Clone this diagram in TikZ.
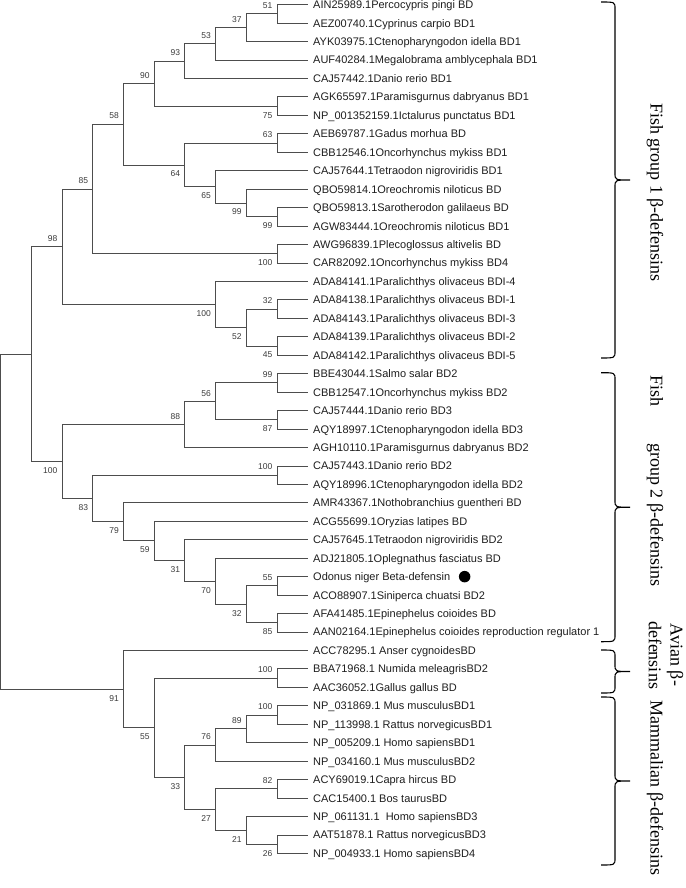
\documentclass[tikz,border=0pt]{standalone}
\usepackage{fontspec}
\setmainfont{Liberation Serif}
\newfontfamily\treefont{Liberation Sans}
\usepackage{tikz}
\usetikzlibrary{positioning}

\definecolor{branchgray}{HTML}{4D4D4D}
\definecolor{bootgray}{HTML}{3A3A3A}
\definecolor{leafblack}{HTML}{1E1E1E}

% right brace for a group, #1 = top, #2 = bottom
\newcommand{\grpbrace}[2]{%
  \draw[gbrace] (601,#1) .. controls (615,#1) .. (615,{#1+7})
    -- (615,{(#1+#2)/2-7}) .. controls (615,{(#1+#2)/2}) .. (630,{(#1+#2)/2})
    .. controls (615,{(#1+#2)/2}) .. (615,{(#1+#2)/2+7})
    -- (615,{#2-7}) .. controls (615,#2) .. (601,#2);}

\begin{document}
\begin{tikzpicture}[x=1pt, y=-1pt,
    branch/.style={draw=branchgray, line width=0.9pt},
    leaf/.style={anchor=west, inner xsep=5.3pt, inner ysep=0pt, text height=7.9pt, text depth=0pt, font=\treefont\fontsize{11}{13}\selectfont, text=leafblack},
    boot/.style={anchor=east, inner sep=0pt, font=\treefont\fontsize{8.5}{10}\selectfont, text=bootgray},
    bu/.style={boot, xshift=-4.5pt, yshift=8.3pt},
    bd/.style={boot, xshift=-4.5pt, yshift=-9pt},
    dotmark/.style={circle, fill=black, minimum size=11.5pt, inner sep=0pt},
    gbrace/.style={draw=black, line width=1.1pt},
    grplabel/.style={rotate=-90, inner sep=0pt, font=\fontsize{18}{21.7}\selectfont}]
  \useasboundingbox (0,0) rectangle (685,888);

  \begin{scope}[xshift=0.7pt, yshift=-4.7pt, x=30.7pt, y=-18.45pt]
    % Fish group 1
    \node[leaf] (l1) at (10,0) {AIN25989.1Percocypris pingi BD};
    \node[leaf] (l2) at (10,1) {AEZ00740.1Cyprinus carpio BD1};
    \node[leaf] (l3) at (10,2) {AYK03975.1Ctenopharyngodon idella BD1};
    \node[leaf] (l4) at (10,3) {AUF40284.1Megalobrama amblycephala BD1};
    \node[leaf] (l5) at (10,4) {CAJ57442.1Danio rerio BD1};
    \node[leaf] (l6) at (10,5) {AGK65597.1Paramisgurnus dabryanus BD1};
    \node[leaf] (l7) at (10,6) {NP\_001352159.1Ictalurus punctatus BD1};
    \node[leaf] (l8) at (10,7) {AEB69787.1Gadus morhua BD};
    \node[leaf] (l9) at (10,8) {CBB12546.1Oncorhynchus mykiss BD1};
    \node[leaf] (l10) at (10,9) {CAJ57644.1Tetraodon nigroviridis BD1};
    \node[leaf] (l11) at (10,10) {QBO59814.1Oreochromis niloticus BD};
    \node[leaf] (l12) at (10,11) {QBO59813.1Sarotherodon galilaeus BD};
    \node[leaf] (l13) at (10,12) {AGW83444.1Oreochromis niloticus BD1};
    \node[leaf] (l14) at (10,13) {AWG96839.1Plecoglossus altivelis BD};
    \node[leaf] (l15) at (10,14) {CAR82092.1Oncorhynchus mykiss BD4};
    \node[leaf] (l16) at (10,15) {ADA84141.1Paralichthys olivaceus BDI-4};
    \node[leaf] (l17) at (10,16) {ADA84138.1Paralichthys olivaceus BDI-1};
    \node[leaf] (l18) at (10,17) {ADA84143.1Paralichthys olivaceus BDI-3};
    \node[leaf] (l19) at (10,18) {ADA84139.1Paralichthys olivaceus BDI-2};
    \node[leaf] (l20) at (10,19) {ADA84142.1Paralichthys olivaceus BDI-5};
    % Fish group 2
    \node[leaf] (l21) at (10,20) {BBE43044.1Salmo salar BD2};
    \node[leaf] (l22) at (10,21) {CBB12547.1Oncorhynchus mykiss BD2};
    \node[leaf] (l23) at (10,22) {CAJ57444.1Danio rerio BD3};
    \node[leaf] (l24) at (10,23) {AQY18997.1Ctenopharyngodon idella BD3};
    \node[leaf] (l25) at (10,24) {AGH10110.1Paramisgurnus dabryanus BD2};
    \node[leaf] (l26) at (10,25) {CAJ57443.1Danio rerio BD2};
    \node[leaf] (l27) at (10,26) {AQY18996.1Ctenopharyngodon idella BD2};
    \node[leaf] (l28) at (10,27) {AMR43367.1Nothobranchius guentheri BD};
    \node[leaf] (l29) at (10,28) {ACG55699.1Oryzias latipes BD};
    \node[leaf] (l30) at (10,29) {CAJ57645.1Tetraodon nigroviridis BD2};
    \node[leaf] (l31) at (10,30) {ADJ21805.1Oplegnathus fasciatus BD};
    \node[leaf] (l32) at (10,31) {Odonus niger Beta-defensin};
    \node[dotmark, right=3pt of l32] (mark) {};
    \node[leaf] (l33) at (10,32) {ACO88907.1Siniperca chuatsi BD2};
    \node[leaf] (l34) at (10,33) {AFA41485.1Epinephelus coioides BD};
    \node[leaf] (l35) at (10,34) {AAN02164.1Epinephelus coioides reproduction regulator 1};
    % Avian
    \node[leaf] (l36) at (10,35) {ACC78295.1 Anser cygnoidesBD};
    \node[leaf] (l37) at (10,36) {BBA71968.1 Numida meleagrisBD2};
    \node[leaf] (l38) at (10,37) {AAC36052.1Gallus gallus BD};
    % Mammalian
    \node[leaf] (l39) at (10,38) {NP\_031869.1 Mus musculusBD1};
    \node[leaf] (l40) at (10,39) {NP\_113998.1 Rattus norvegicusBD1};
    \node[leaf] (l41) at (10,40) {NP\_005209.1 Homo sapiensBD1};
    \node[leaf] (l42) at (10,41) {NP\_034160.1 Mus musculusBD2};
    \node[leaf] (l43) at (10,42) {ACY69019.1Capra hircus BD};
    \node[leaf] (l44) at (10,43) {CAC15400.1 Bos taurusBD};
    \node[leaf] (l45) at (10,44) {NP\_061131.1~ Homo sapiensBD3};
    \node[leaf] (l46) at (10,45) {AAT51878.1 Rattus norvegicusBD3};
    \node[leaf] (l47) at (10,46) {NP\_004933.1 Homo sapiensBD4};

    % internal nodes, fish group 1
    \coordinate (n51) at (9,0.5); \node[bu] (b51) at (n51) {51};
    \coordinate (n37) at (8,1.25); \node[bu] (b37) at (n37) {37};
    \coordinate (n53) at (7,2.125); \node[bu] (b53) at (n53) {53};
    \coordinate (n93) at (6,3.0625); \node[bu] (b93) at (n93) {93};
    \coordinate (n75) at (9,5.5); \node[bd] (b75) at (n75) {75};
    \coordinate (n90) at (5,4.28125); \node[bu] (b90) at (n90) {90};
    \coordinate (n63) at (9,7.5); \node[bu] (b63) at (n63) {63};
    \coordinate (n99b) at (9,11.5); \node[bd] (b99b) at (n99b) {99};
    \coordinate (n99a) at (8,10.75); \node[bd] (b99a) at (n99a) {99};
    \coordinate (n65) at (7,9.875); \node[bd] (b65) at (n65) {65};
    \coordinate (n64) at (6,8.6875); \node[bd] (b64) at (n64) {64};
    \coordinate (n58) at (4,6.484375); \node[bu] (b58) at (n58) {58};
    \coordinate (n100a) at (9,13.5); \node[bd] (b100a) at (n100a) {100};
    \coordinate (n85) at (3,9.9921875); \node[bu] (b85) at (n85) {85};
    \coordinate (n32a) at (9,16.5); \node[bu] (b32a) at (n32a) {32};
    \coordinate (n45) at (9,18.5); \node[bd] (b45) at (n45) {45};
    \coordinate (n52) at (8,17.5); \node[bd] (b52) at (n52) {52};
    \coordinate (n100b) at (7,16.25); \node[bd] (b100b) at (n100b) {100};
    \coordinate (n98) at (2,13.12109375); \node[bu] (b98) at (n98) {98};
    \coordinate (nfish) at (1,18.939453125);

    % internal nodes, fish group 2
    \coordinate (n99c) at (9,20.5); \node[bu] (b99c) at (n99c) {99};
    \coordinate (n87) at (9,22.5); \node[bd] (b87) at (n87) {87};
    \coordinate (n56) at (7,21.5); \node[bu] (b56) at (n56) {56};
    \coordinate (n88) at (6,22.75); \node[bu] (b88) at (n88) {88};
    \coordinate (n100d) at (9,25.5); \node[bu] (b100d) at (n100d) {100};
    \coordinate (n55f) at (9,31.5); \node[bu] (b55f) at (n55f) {55};
    \coordinate (n85b) at (9,33.5); \node[bd] (b85b) at (n85b) {85};
    \coordinate (n32b) at (8,32.5); \node[bd] (b32b) at (n32b) {32};
    \coordinate (n70) at (7,31.25); \node[bd] (b70) at (n70) {70};
    \coordinate (n31) at (6,30.125); \node[bd] (b31) at (n31) {31};
    \coordinate (n59) at (5,29.0625); \node[bd] (b59) at (n59) {59};
    \coordinate (n79) at (4,28.03125); \node[bd] (b79) at (n79) {79};
    \coordinate (n83) at (3,26.765625); \node[bd] (b83) at (n83) {83};
    \coordinate (n100c) at (2,24.7578125); \node[bd] (b100c) at (n100c) {100};

    % internal nodes, birds and mammals
    \coordinate (n100e) at (9,36.5); \node[bu] (b100e) at (n100e) {100};
    \coordinate (n100f) at (9,38.5); \node[bu] (b100f) at (n100f) {100};
    \coordinate (n89) at (8,39.25); \node[bu] (b89) at (n89) {89};
    \coordinate (n76) at (7,40.125); \node[bu] (b76) at (n76) {76};
    \coordinate (n82) at (9,42.5); \node[bu] (b82) at (n82) {82};
    \coordinate (n26) at (9,45.5); \node[bd] (b26) at (n26) {26};
    \coordinate (n21) at (8,44.75); \node[bd] (b21) at (n21) {21};
    \coordinate (n27) at (7,43.625); \node[bd] (b27) at (n27) {27};
    \coordinate (n33) at (6,41.875); \node[bd] (b33) at (n33) {33};
    \coordinate (n55) at (5,39.1875); \node[bd] (b55) at (n55) {55};
    \coordinate (n91) at (4,37.09375); \node[bd] (b91) at (n91) {91};
    \coordinate (root) at (0,28.0166);

    % branches
    \draw[branch] (n51) |- (l1) (n51) |- (l2);
    \draw[branch] (n37) |- (n51) (n37) |- (l3);
    \draw[branch] (n53) |- (n37) (n53) |- (l4);
    \draw[branch] (n93) |- (n53) (n93) |- (l5);
    \draw[branch] (n75) |- (l6) (n75) |- (l7);
    \draw[branch] (n90) |- (n93) (n90) |- (n75);
    \draw[branch] (n63) |- (l8) (n63) |- (l9);
    \draw[branch] (n99b) |- (l12) (n99b) |- (l13);
    \draw[branch] (n99a) |- (l11) (n99a) |- (n99b);
    \draw[branch] (n65) |- (l10) (n65) |- (n99a);
    \draw[branch] (n64) |- (n63) (n64) |- (n65);
    \draw[branch] (n58) |- (n90) (n58) |- (n64);
    \draw[branch] (n100a) |- (l14) (n100a) |- (l15);
    \draw[branch] (n85) |- (n58) (n85) |- (n100a);
    \draw[branch] (n32a) |- (l17) (n32a) |- (l18);
    \draw[branch] (n45) |- (l19) (n45) |- (l20);
    \draw[branch] (n52) |- (n32a) (n52) |- (n45);
    \draw[branch] (n100b) |- (l16) (n100b) |- (n52);
    \draw[branch] (n98) |- (n85) (n98) |- (n100b);
    \draw[branch] (nfish) |- (n98) (nfish) |- (n100c);

    \draw[branch] (n99c) |- (l21) (n99c) |- (l22);
    \draw[branch] (n87) |- (l23) (n87) |- (l24);
    \draw[branch] (n56) |- (n99c) (n56) |- (n87);
    \draw[branch] (n88) |- (n56) (n88) |- (l25);
    \draw[branch] (n100d) |- (l26) (n100d) |- (l27);
    \draw[branch] (n55f) |- (l32) (n55f) |- (l33);
    \draw[branch] (n85b) |- (l34) (n85b) |- (l35);
    \draw[branch] (n32b) |- (n55f) (n32b) |- (n85b);
    \draw[branch] (n70) |- (l31) (n70) |- (n32b);
    \draw[branch] (n31) |- (l30) (n31) |- (n70);
    \draw[branch] (n59) |- (l29) (n59) |- (n31);
    \draw[branch] (n79) |- (l28) (n79) |- (n59);
    \draw[branch] (n83) |- (n100d) (n83) |- (n79);
    \draw[branch] (n100c) |- (n88) (n100c) |- (n83);

    \draw[branch] (n100e) |- (l37) (n100e) |- (l38);
    \draw[branch] (n100f) |- (l39) (n100f) |- (l40);
    \draw[branch] (n89) |- (n100f) (n89) |- (l41);
    \draw[branch] (n76) |- (n89) (n76) |- (l42);
    \draw[branch] (n82) |- (l43) (n82) |- (l44);
    \draw[branch] (n26) |- (l46) (n26) |- (l47);
    \draw[branch] (n21) |- (l45) (n21) |- (n26);
    \draw[branch] (n27) |- (n82) (n27) |- (n21);
    \draw[branch] (n33) |- (n76) (n33) |- (n27);
    \draw[branch] (n55) |- (n100e) (n55) |- (n33);
    \draw[branch] (n91) |- (l36) (n91) |- (n55);
    \draw[branch] (root) |- (nfish) (root) |- (n91);
  \end{scope}

  % group braces and names
  \grpbrace{2}{358}
  \grpbrace{372.7}{641.7}
  \grpbrace{650}{693}
  \grpbrace{697}{865}
  \node[grplabel] (g1) at (655,192.5) {Fish group 1 β-defensins};
  \node[grplabel] (g2) at (655,481) {Fish\hspace{37pt}group 2 β-defensins};
  \node[grplabel, align=center] (g3) at (666,655) {Avian β-\\defensins};
  \node[grplabel] (g4) at (655,788) {Mammalian β-defensins};
\end{tikzpicture}
\end{document}
